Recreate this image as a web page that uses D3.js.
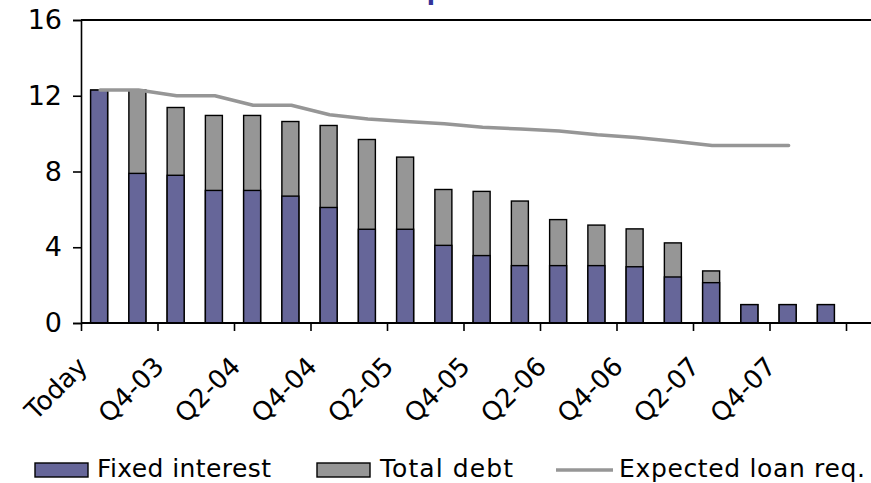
<!DOCTYPE html>
<html>
<head>
<meta charset="utf-8">
<script src="https://cdn.jsdelivr.net/npm/d3@7"></script>
<style>
  html, body { margin: 0; padding: 0; background: #ffffff; }
  svg { display: block; font-family: "DejaVu Sans", Verdana, sans-serif; }
</style>
</head>
<body>
<svg id="chart" width="871" height="483"></svg>
<script>
// Quarterly periods, from today through Q1-08
const categories = ["Today", "Q3-03", "Q4-03", "Q1-04", "Q2-04", "Q3-04", "Q4-04", "Q1-05", "Q2-05", "Q3-05",
                    "Q4-05", "Q1-06", "Q2-06", "Q3-06", "Q4-06", "Q1-07", "Q2-07", "Q3-07", "Q4-07", "Q1-08"];

// Outstanding amounts per period
const fixedInterest = [12.3, 7.9, 7.8, 7.0, 7.0, 6.7, 6.1, 4.95, 4.95, 4.1,
                       3.56, 3.03, 3.03, 3.03, 2.97, 2.43, 2.13, 0.97, 0.97, 0.97];
const totalDebt     = [12.3, 12.3, 11.38, 10.96, 10.96, 10.64, 10.43, 9.69, 8.76, 7.05,
                       6.95, 6.44, 5.46, 5.17, 4.97, 4.23, 2.75, 0.97, 0.97, 0.97];
const expectedLoan  = [12.3, 12.3, 12.0, 12.0, 11.5, 11.5, 11.0, 10.77, 10.64, 10.52,
                       10.34, 10.24, 10.14, 9.94, 9.8, 9.6, 9.37, 9.37, 9.37, null];

const yTicks = [0, 4, 8, 12, 16];
const titleText = "Interest rate profile";
const legendLabels = ["Fixed interest", "Total debt", "Expected loan req."];

const colFixed = "#666699";
const colTotal = "#969696";
const colLine = "#969696";

const svg = d3.select("#chart");

const plot = { left: 81, top: 20, bottom: 323, right: 846 };

const x = d3.scaleBand()
  .domain(categories)
  .range([plot.left, plot.right])
  .padding(0);

const y = d3.scaleLinear()
  .domain([0, 16])
  .range([plot.bottom, plot.top]);

const step = x.step();
const barW = 17;
const barX = c => x(c) + (step - barW) / 2 - 1;

// Title (sits above the drawing area, only its descender reaches in)
const title = svg.append("text")
  .attr("y", 0)
  .attr("fill", "#333399")
  .attr("font-size", 24)
  .attr("font-weight", "bold")
  .text(titleText);
const pIdx = titleText.indexOf("p");
const pOffset = title.node().getSubStringLength(0, pIdx);
title.attr("x", 429 - pOffset - 24 * 0.09);

// Plot frame: top border
svg.append("line")
  .attr("x1", plot.left).attr("x2", 900)
  .attr("y1", plot.top).attr("y2", plot.top)
  .attr("stroke", "#000").attr("stroke-width", 2);

// Total debt bars behind, fixed-interest bars in front
svg.append("g").selectAll("rect")
  .data(categories)
  .join("rect")
  .attr("x", c => barX(c))
  .attr("width", barW)
  .attr("y", (c, i) => y(totalDebt[i]))
  .attr("height", (c, i) => y(0) - y(totalDebt[i]))
  .attr("fill", colTotal)
  .attr("stroke", "#000")
  .attr("stroke-width", 1.4);

svg.append("g").selectAll("rect")
  .data(categories)
  .join("rect")
  .attr("x", c => barX(c))
  .attr("width", barW)
  .attr("y", (c, i) => y(fixedInterest[i]))
  .attr("height", (c, i) => y(0) - y(fixedInterest[i]))
  .attr("fill", colFixed)
  .attr("stroke", "#000")
  .attr("stroke-width", 1.4);

// Expected loan requirement line
const line = d3.line()
  .defined(d => d.v != null)
  .x(d => x(d.c) + step / 2)
  .y(d => y(d.v));

svg.append("path")
  .datum(categories.map((c, i) => ({ c, v: expectedLoan[i] })))
  .attr("d", line)
  .attr("fill", "none")
  .attr("stroke", colLine)
  .attr("stroke-width", 3.5)
  .attr("stroke-linecap", "round")
  .attr("stroke-linejoin", "round");

// Y axis
const yAxis = svg.append("g")
  .attr("transform", `translate(${plot.left},0)`)
  .call(d3.axisLeft(y).tickValues(yTicks).tickSize(8).tickPadding(11).tickFormat(d3.format("d")));
yAxis.select(".domain").attr("stroke", "#000").attr("stroke-width", 1.6);
yAxis.selectAll(".tick line").attr("stroke", "#000").attr("stroke-width", 1.6);
yAxis.selectAll(".tick text")
  .attr("font-size", 27)
  .attr("font-family", "DejaVu Sans, Verdana, sans-serif")
  .attr("fill", "#000");

// X axis: ticks between every second period
const xi = d3.scaleLinear().domain([0, categories.length]).range([plot.left, plot.right]);
const xTickIdx = d3.range(0, categories.length + 1, 2);
const xAxis = svg.append("g")
  .attr("transform", `translate(0,${plot.bottom})`)
  .call(d3.axisBottom(xi).tickValues(xTickIdx).tickSize(8).tickFormat(""));
xAxis.select(".domain").remove();
xAxis.selectAll(".tick line").attr("stroke", "#000").attr("stroke-width", 1.6);
svg.append("line")
  .attr("x1", plot.left).attr("x2", 900)
  .attr("y1", plot.bottom).attr("y2", plot.bottom)
  .attr("stroke", "#000").attr("stroke-width", 2);

// Rotated period labels on every second period
svg.append("g").selectAll("text")
  .data(categories.filter((c, i) => i % 2 === 0))
  .join("text")
  .attr("transform", c => `translate(${x(c) + 8},368) rotate(-45)`)
  .attr("text-anchor", "end")
  .attr("font-size", 26)
  .attr("fill", "#000")
  .text(c => c);

// Legend
const lg = svg.append("g").attr("font-size", 25);
lg.append("rect").attr("x", 35).attr("y", 463).attr("width", 53).attr("height", 14)
  .attr("fill", colFixed).attr("stroke", "#000").attr("stroke-width", 1.4);
lg.append("text").attr("x", 97).attr("y", 477)
  .attr("textLength", 174).attr("lengthAdjust", "spacing").text(legendLabels[0]);
lg.append("rect").attr("x", 317).attr("y", 463).attr("width", 53).attr("height", 14)
  .attr("fill", colTotal).attr("stroke", "#000").attr("stroke-width", 1.4);
lg.append("text").attr("x", 380).attr("y", 477)
  .attr("textLength", 133).attr("lengthAdjust", "spacing").text(legendLabels[1]);
lg.append("line").attr("x1", 556).attr("x2", 613).attr("y1", 470).attr("y2", 470)
  .attr("stroke", colLine).attr("stroke-width", 3.5);
lg.append("text").attr("x", 619).attr("y", 477)
  .attr("textLength", 246).attr("lengthAdjust", "spacing").text(legendLabels[2]);
</script>
</body>
</html>
